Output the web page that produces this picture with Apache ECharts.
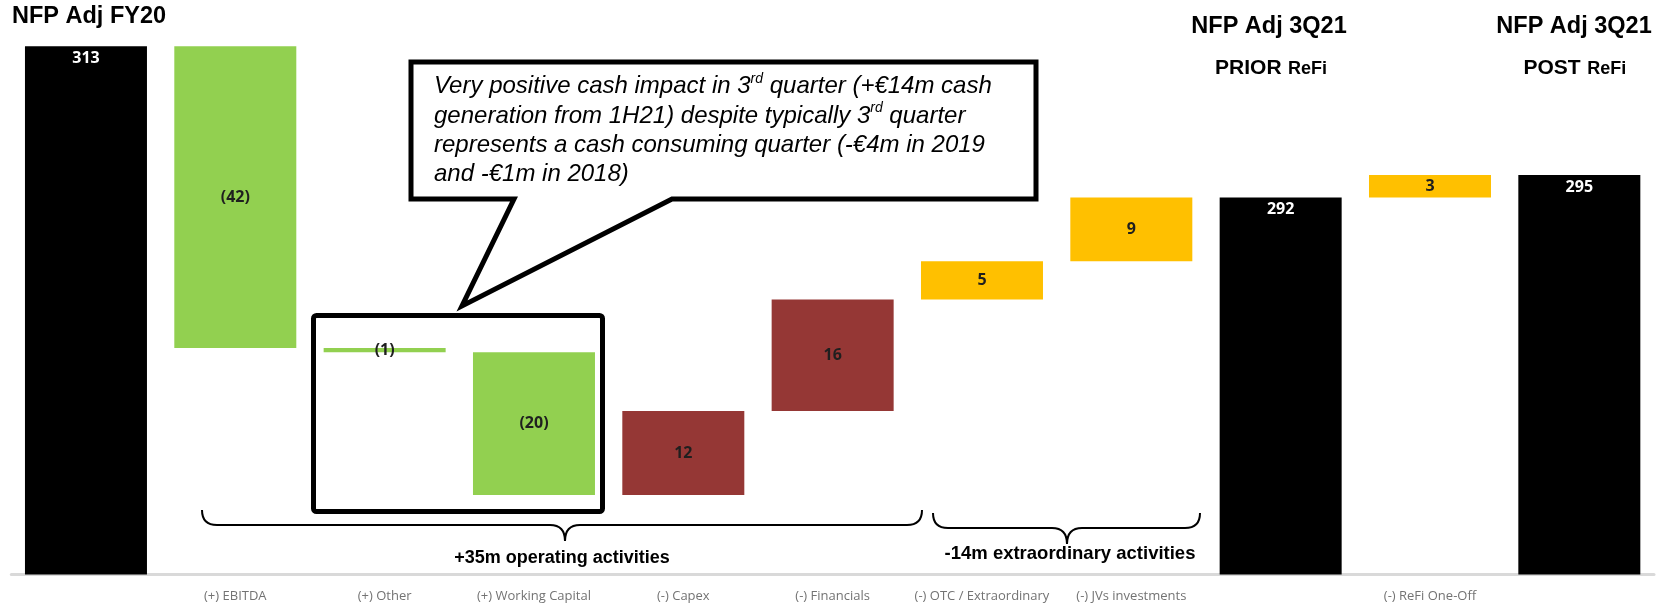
<!DOCTYPE html>
<html><head><meta charset="utf-8">
<script src="https://cdn.jsdelivr.net/npm/echarts@6/dist/echarts.min.js"></script>
<style>html,body{margin:0;padding:0;background:#fff}#c{width:1665px;height:604px}</style>
</head><body><div id="c"></div>
<script>
// ---- data ----
const categories = ['', '(+) EBITDA', '(+) Other', '(+) Working Capital', '(-) Capex', '(-) Financials',
  '(-) OTC / Extraordinary', '(-) JVs investments', '', '(-) ReFi One-Off', ''];
const startValue = 313;
// null = subtotal bar (running total)
const steps = [null, -41.7, -0.6, -19.7, 11.6, 15.4, 5.3, 8.8, null, 3.1, null];
const barLabels = ['313', '(42)', '(1)', '(20)', '12', '16', '5', '9', '292', '3', '295'];
const barColors = ['#000000', '#92D050', '#92D050', '#92D050', '#953735', '#953735',
  '#FFC000', '#FFC000', '#000000', '#FFC000', '#000000'];
const axisMin = 240, axisMax = 313;

// ---- build waterfall ----
let level = startValue;
const baseVals = [], sizeVals = [];
steps.forEach((s) => {
  if (s === null) { baseVals.push(axisMin); sizeVals.push(level - axisMin); }
  else { const nl = level + s; baseVals.push(Math.min(level, nl)); sizeVals.push(Math.abs(s)); level = nl; }
});

const chart = echarts.init(document.getElementById('c'), null, { renderer: 'canvas' });
const sans = '"Liberation Sans", Arial, sans-serif';
function title(text, x, y, size, align) {
  return { type: 'text', z: 100, style: { text, x, y, font: 'bold ' + size + 'px ' + sans, fill: '#000',
    textAlign: align || 'center', textVerticalAlign: 'middle' } };
}
function brace(xl, xr, xt, y0, y1, y2) {
  const r = y1 - y0;
  const st = { stroke: '#000', lineWidth: 2, fill: 'none' };
  return [
    { type: 'bezierCurve', z: 90, shape: { x1: xl, y1: y0, cpx1: xl, cpy1: y1, x2: xl + r, y2: y1 }, style: st },
    { type: 'line', z: 90, shape: { x1: xl + r, y1: y1, x2: xt - r, y2: y1 }, style: st },
    { type: 'bezierCurve', z: 90, shape: { x1: xt - r, y1: y1, cpx1: xt, cpy1: y1, x2: xt, y2: y2 }, style: st },
    { type: 'bezierCurve', z: 90, shape: { x1: xt, y1: y2, cpx1: xt, cpy1: y1, x2: xt + r, y2: y1 }, style: st },
    { type: 'line', z: 90, shape: { x1: xt + r, y1: y1, x2: xr - r, y2: y1 }, style: st },
    { type: 'bezierCurve', z: 90, shape: { x1: xr - r, y1: y1, cpx1: xr, cpy1: y1, x2: xr, y2: y0 }, style: st }
  ];
}
const nStyle = { fontFamily: 'Liberation Sans', fontStyle: 'italic', fontSize: 24, lineHeight: 29.3, fill: '#000' };
const sStyle = { fontFamily: 'Liberation Sans', fontStyle: 'italic', fontSize: 14, lineHeight: 14, verticalAlign: 'top', fill: '#000' };

chart.setOption({
  animation: false,
  grid: { left: 11.3, right: 11, top: 46.3, bottom: 29.5 },
  xAxis: {
    type: 'category', data: categories,
    axisLine: { lineStyle: { color: '#d9d9d9', width: 3 } },
    axisTick: { show: false },
    axisLabel: { interval: 0, color: '#737373', fontFamily: 'Open Sans', fontSize: 13, margin: 15 }
  },
  yAxis: { type: 'value', min: axisMin, max: axisMax, show: false, splitLine: { show: false } },
  series: [
    { type: 'bar', stack: 'w', barWidth: 122, silent: true, itemStyle: { color: 'rgba(0,0,0,0)' }, data: baseVals },
    { type: 'bar', stack: 'w', barWidth: 122,
      data: sizeVals.map((v, i) => {
        const total = steps[i] === null;
        return { value: v, itemStyle: { color: barColors[i] },
          label: { show: true, position: total ? 'insideTop' : 'inside', distance: 4,
            color: total ? '#ffffff' : '#1f1f1f', fontFamily: 'Open Sans', fontWeight: 'bold', fontSize: 16,
            formatter: () => barLabels[i] } };
      })
    }
  ],
  graphic: [
    title('NFP Adj FY20', 12, 16.2, 23.5, 'left'),
    title('NFP Adj 3Q21', 1269, 26.7, 23.5),
    title('PRIOR', 1248.3, 68.3, 21),
    title('ReFi', 1307.5, 69.3, 18),
    title('NFP Adj 3Q21', 1574, 26.7, 23.5),
    title('POST', 1552, 68.3, 21),
    title('ReFi', 1606.7, 69.3, 18),
    { type: 'polygon', z: 90, shape: { points: [[411, 62], [1036, 62], [1036, 199], [672, 199], [462, 306], [514, 199], [411, 199]] },
      style: { fill: '#ffffff', stroke: '#000000', lineWidth: 5, lineJoin: 'miter' } },
    { type: 'text', z: 100, style: {
      x: 434, y: 72, textAlign: 'left', textVerticalAlign: 'top', font: 'italic 24px ' + sans, fill: '#000',
      text: '{n|Very positive cash impact in 3}{s|rd}{n| quarter (+€14m cash}\n' +
            '{n|generation from 1H21) despite typically 3}{s|rd}{n| quarter}\n' +
            '{n|represents a cash consuming quarter (-€4m in 2019}\n' +
            '{n|and -€1m in 2018)}',
      rich: { n: nStyle, s: sStyle } } },
    { type: 'rect', z: 90, shape: { x: 313.5, y: 315.5, width: 289, height: 196, r: 3 },
      style: { fill: 'none', stroke: '#000000', lineWidth: 5 } },
    ...brace(202, 922, 565, 510, 525, 541),
    ...brace(933, 1200, 1067, 513, 528, 544),
    title('+35m operating activities', 562, 558.3, 18),
    title('-14m extraordinary activities', 1070, 554, 18.5)
  ]
});
</script></body></html>
